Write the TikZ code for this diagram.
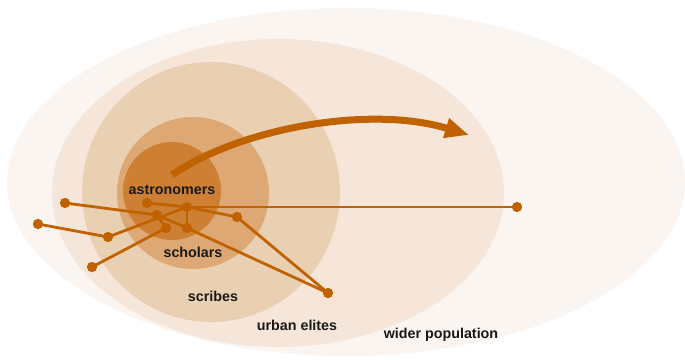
\documentclass[tikz,border=0pt]{standalone}
\usepackage{fontspec}
\setmainfont{Liberation Sans}
\usetikzlibrary{arrows.meta}
\definecolor{cwide}{RGB}{250,245,241}
\definecolor{curban}{RGB}{246,230,217}
\definecolor{cscribe}{RGB}{234,208,178}
\definecolor{cschol}{RGB}{222,168,116}
\definecolor{castro}{RGB}{205,128,52}
\definecolor{cline}{RGB}{193,98,0}
\definecolor{ctext}{RGB}{25,25,25}
\begin{document}
\begin{tikzpicture}[x=1pt,y=-1pt,
  lvl/.style={font=\fontsize{14.3}{16}\selectfont\bfseries, text=ctext, inner sep=0pt},
  dot/.style={circle, fill=cline, inner sep=0pt, minimum size=10pt},
  link/.style={draw=cline, line width=2.8pt},
  bigarrow/.style={draw=cline, line width=7pt, -{Triangle[length=24pt,width=19pt]}}]
\useasboundingbox (0,0) rectangle (685,359);
% ellipses
\fill[cwide] (346,182) ellipse [x radius=339, y radius=174];
\fill[curban] (278,193) ellipse [x radius=226, y radius=154];
\fill[cscribe] (211,192) ellipse [x radius=129, y radius=130];
\fill[cschol] (193,193) circle [radius=76];
\fill[castro] (172,191) circle [radius=49];
% labels
\node[lvl] (tastro) at (172,190) {astronomers};
\node[lvl] (tschol) at (193,252) {scholars};
\node[lvl] (tscribe) at (213,296) {scribes};
\node[lvl] (turban) at (297,325) {urban elites};
\node[lvl] (twide) at (441,335) {wider population};
% arrow
\coordinate (as) at (172,175);
\coordinate (ae) at (469,135);
\draw[bigarrow] (as) .. controls (240,128) and (370,105) .. (ae);
% network nodes
\node[dot] (A) at (65,203) {};
\node[dot] (B) at (38,224) {};
\node[dot] (C) at (108,237) {};
\node[dot] (D) at (92,267) {};
\node[dot] (E) at (147,203) {};
\node[dot] (F) at (187,207) {};
\node[dot] (G) at (157,215) {};
\node[dot] (H) at (166,228) {};
\node[dot] (I) at (187,228) {};
\node[dot] (J) at (237,217) {};
\node[dot] (K) at (328,293) {};
\node[dot] (L) at (517,207) {};
% connectors
\path[link] (A.center) -- (G.center);
\path[link] (G.center) -- (I.center);
\path[link] (I.center) -- (K.center);
\path[link] (B.center) -- (C.center);
\path[link] (C.center) -- (F.center);
\path[link] (D.center) -- (H.center);
\path[link] (G.center) -- (H.center);
\path[link] (E.center) -- (F.center);
\path[link] (F.center) -- (L.center);
\path[link] (F.center) -- (I.center);
\path[link] (F.center) -- (J.center);
\path[link] (J.center) -- (K.center);
% redraw dots on top
\foreach \n in {A,B,C,D,E,F,G,H,I,J,K,L} \fill[cline] (\n) circle [radius=5];
\end{tikzpicture}
\end{document}
